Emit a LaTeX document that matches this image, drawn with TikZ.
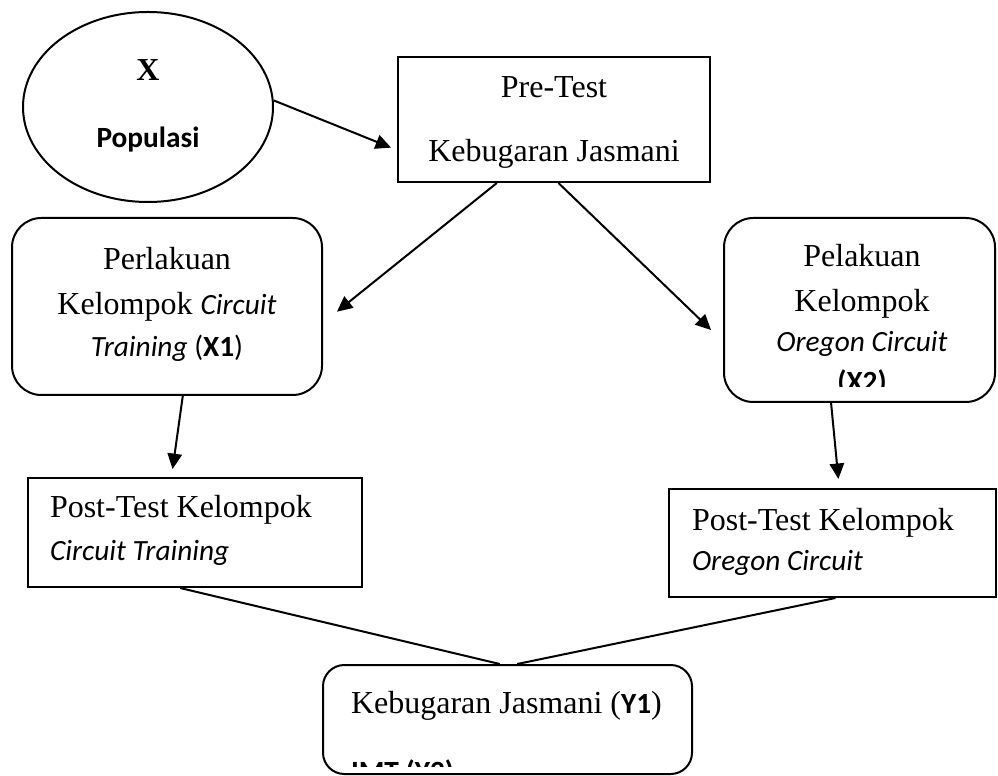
\documentclass[tikz,border=0pt]{standalone}
\usepackage{fontspec}
\setmainfont{Liberation Serif}
\newfontfamily\calibri{Carlito}
\usetikzlibrary{shapes.geometric,arrows.meta}
\newcommand{\sanstxt}[1]{{\calibri\fontsize{11}{13}\selectfont #1}}

\begin{document}
\begin{tikzpicture}[x=0.375pt, y=-0.375pt, line width=0.75pt,
    font=\fontsize{12}{14}\selectfont,
    kotak/.style={draw, rectangle, inner sep=0pt},
    bulat/.style={draw, rectangle, rounded corners=11pt, inner sep=0pt},
    teks/.style={inner sep=0pt, anchor=base},
    teksk/.style={inner sep=0pt, anchor=base west},
    panah/.style={-{Triangle[length=5.8pt,width=5.4pt]}}]
          \useasboundingbox (0,0) rectangle (998,776);
          \node[draw, ellipse, minimum width=93.75pt, minimum height=71.25pt, inner sep=0pt] (pop) at (148,107) {};
          \node[teks] (popX) at (148,81) {\textbf{X}};
          \node[teks] (popT) at (148,148) {\sanstxt{\textbf{Populasi}}};
          \node[kotak, minimum width=117pt, minimum height=46.875pt] (pre) at (554,119.5) {};
          \node[teks] (preA) at (554,98) {Pre-Test};
          \node[teks] (preB) at (554,162) {Kebugaran Jasmani};
          \node[bulat, minimum width=116.25pt, minimum height=66.375pt] (perl) at (167,306.5) {};
          \node[teks] (perlA) at (167,270) {Perlakuan};
          \node[teks] (perlB) at (167,315) {Kelompok \sanstxt{\textit{Circuit}}};
          \node[teks] (perlC) at (167,357) {\sanstxt{\textit{Training} (\textbf{X1})}};
          \node[bulat, minimum width=101.625pt, minimum height=69pt] (pelk) at (859.5,310) {};
          \node[teks] (pelkA) at (862,267) {Pelakuan};
          \node[teks] (pelkB) at (862,312) {Kelompok};
          \node[teks] (pelkC) at (862,352) {\sanstxt{\textit{Oregon Circuit}}};
          \begin{scope}
            \clip (730,360) rectangle (990,387);
            \node[teks] (pelkD) at (862,392) {\sanstxt{\textbf{(X2)}}};
          \end{scope}
          \node[kotak, minimum width=125.25pt, minimum height=40.875pt] (postA) at (195,532.5) {};
          \node[teksk] (postA1) at (49,517) {Post-Test Kelompok};
          \node[teksk] (postA2) at (49,560) {\sanstxt{\textit{Circuit Training}}};
          \node[kotak, minimum width=122.625pt, minimum height=40.5pt] (postB) at (832.5,543) {};
          \node[teksk] (postB1) at (691,530) {Post-Test Kelompok};
          \node[teksk] (postB2) at (691,570) {\sanstxt{\textit{Oregon Circuit}}};
          \node[bulat, rounded corners=8pt, minimum width=138.375pt, minimum height=40.875pt] (hasil) at (507.5,719.5) {};
          \node[teksk] (hasilA) at (350,713) {Kebugaran Jasmani (\sanstxt{\textbf{Y1}})};
          \begin{scope}
            \clip (330,740) rectangle (690,766);
            \node[teksk] (hasilB) at (350,781) {\sanstxt{\textbf{IMT (Y2)}}};
          \end{scope}
          \draw[panah, shorten >=2.4pt] (pop.3) -- (pre.191);
          \draw[panah, shorten >=6.7pt] (pre.228) -- (perl.-6);
          \draw[panah, shorten >=6.2pt] (pre.-86) -- (pelk.193);
          \draw[panah, shorten >=3pt] (perl.-80) -- (postA.113);
          \draw[panah, shorten >=3.4pt] (pelk.253) -- (postB.83);
          \draw (postA.255) -- (hasil.98);
          \draw (postB.-87) -- (hasil.80);
        \end{tikzpicture}
\end{document}
